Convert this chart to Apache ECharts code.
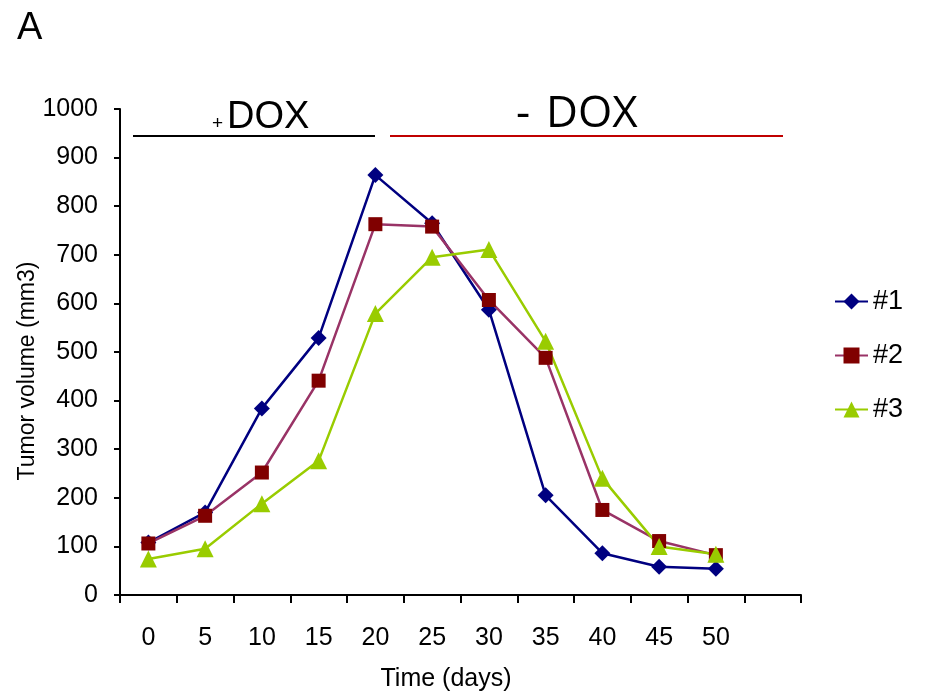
<!DOCTYPE html>
<html>
<head>
<meta charset="utf-8">
<script src="https://cdn.jsdelivr.net/npm/echarts@6/dist/echarts.min.js"></script>
<style>
html,body{margin:0;padding:0;background:#fff;}
#chart{width:952px;height:694px;}
</style>
</head>
<body>
<div id="chart"></div>
<script>
const days = ['0','5','10','15','20','25','30','35','40','45','50',''];
const yTicks = [0,100,200,300,400,500,600,700,800,900,1000];
const series1 = [108,170,384,529,864,765,587,205,86,58,54];
const series2 = [106,163,252,441,763,758,607,488,175,111,82];
const series3 = [74,95,188,276,579,695,711,522,240,100,84];
const seriesNames = ['#1','#2','#3'];

const chart = echarts.init(document.getElementById('chart'));
const axisFont = 'Liberation Sans, Arial, sans-serif';

chart.setOption({
  animation: false,
  backgroundColor: '#fff',
  grid: {left: 120, right: 151, top: 109, bottom: 99, containLabel: false},
  xAxis: {
    type: 'category',
    data: days,
    boundaryGap: true,
    axisLine: {lineStyle: {color: '#000', width: 2}},
    axisTick: {show: true, length: 8, lineStyle: {color: '#000', width: 2}},
    axisLabel: {fontFamily: axisFont, fontSize: 25, color: '#000', margin: 31},
    splitLine: {show: false}
  },
  yAxis: {
    type: 'value',
    min: yTicks[0],
    max: yTicks[yTicks.length-1],
    interval: 100,
    axisLine: {show: true, lineStyle: {color: '#000', width: 2}},
    axisTick: {show: true, length: 6, lineStyle: {color: '#000', width: 2}},
    axisLabel: {fontFamily: axisFont, fontSize: 25, color: '#000', margin: 22, formatter: v => String(v)},
    splitLine: {show: false}
  },
  legend: {
    orient: 'vertical',
    left: 829,
    top: 283,
    itemWidth: 33,
    itemHeight: 20,
    itemGap: 27,
    textStyle: {fontFamily: axisFont, fontSize: 27, color: '#000'},
    data: seriesNames
  },
  series: [
    {
      name: seriesNames[0], type: 'line', data: series1,
      symbol: 'diamond', symbolSize: 16,
      lineStyle: {color: '#000080', width: 2.5},
      itemStyle: {color: '#000080'}
    },
    {
      name: seriesNames[1], type: 'line', data: series2,
      symbol: 'rect', symbolSize: 14,
      lineStyle: {color: '#993366', width: 2.5},
      itemStyle: {color: '#800000'}
    },
    {
      name: seriesNames[2], type: 'line', data: series3,
      symbol: 'triangle', symbolSize: 17,
      lineStyle: {color: '#99CC00', width: 2.5},
      itemStyle: {color: '#99CC00'}
    }
  ],
  graphic: [
    {type: 'text', left: 17, top: 10, style: {text: 'A', fontFamily: axisFont, fontSize: 38, fill: '#000'}},
    {type: 'text', x: 28, y: 371, rotation: Math.PI / 2,
     style: {text: 'Tumor volume (mm3)', fontFamily: axisFont, fontSize: 23, fill: '#000', align: 'center', verticalAlign: 'middle'}},
    {type: 'text', x: 446, y: 679,
     style: {text: 'Time (days)', fontFamily: axisFont, fontSize: 25, fill: '#000', align: 'center', verticalAlign: 'middle'}},
    {type: 'line', shape: {x1: 133, y1: 136, x2: 375, y2: 136}, style: {stroke: '#000', lineWidth: 2}},
    {type: 'line', shape: {x1: 390, y1: 136, x2: 783, y2: 136}, style: {stroke: '#C00000', lineWidth: 2}},
    {type: 'text', left: 212, top: 114, style: {text: '+', fontFamily: axisFont, fontSize: 19, fill: '#000'}},
    {type: 'text', left: 227, top: 99, style: {text: 'DOX', fontFamily: axisFont, fontSize: 38, fill: '#000'}},
    {type: 'text', left: 516, top: 92, style: {text: '-', fontFamily: 'Open Sans, sans-serif', fontSize: 44, fill: '#000'}},
    {type: 'text', left: 546, top: 92, style: {text: 'DOX', fontFamily: 'Open Sans, sans-serif', fontSize: 44, fill: '#000'}}
  ]
});
</script>
</body>
</html>
